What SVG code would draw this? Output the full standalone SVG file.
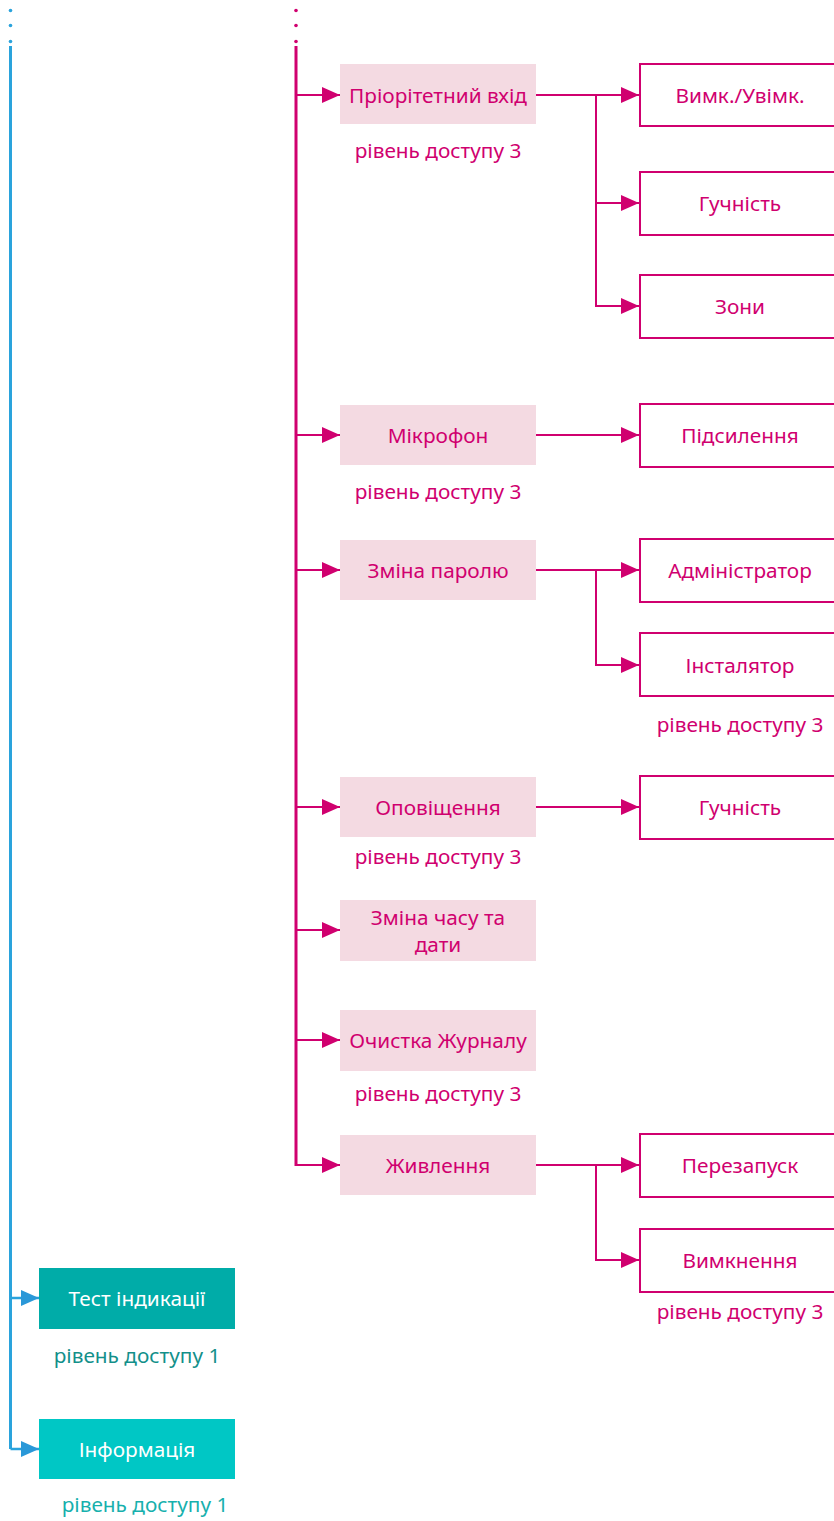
<svg xmlns="http://www.w3.org/2000/svg" width="834" height="1521" viewBox="0 0 834 1521">
<style>
text{font-family:"Noto Sans","Open Sans","Liberation Sans",sans-serif;font-size:20.8px;text-anchor:middle;dominant-baseline:central}
.m{fill:#d0006f}
.main{fill:#f4dae2}
.sub{fill:#fff;stroke:#d0006f;stroke-width:2}
.ml{stroke:#d0006f;stroke-width:2;fill:none}
.bl{stroke:#2aa3dc;stroke-width:2.5;fill:none}
.w{fill:#fff}
</style>
<defs>
<marker id="am" markerUnits="userSpaceOnUse" markerWidth="18" markerHeight="16" refX="18" refY="8" orient="auto"><path d="M0,0L18,8L0,16Z" fill="#d0006f"/></marker>
<marker id="ab" markerUnits="userSpaceOnUse" markerWidth="18" markerHeight="16" refX="18" refY="8" orient="auto"><path d="M0,0L18,8L0,16Z" fill="#2a98d8"/></marker>
</defs>
<g id="connectors">
<circle cx="10.5" cy="10.5" r="1.8" fill="#2aa3dc"/><circle cx="10.5" cy="25.5" r="1.8" fill="#2aa3dc"/><circle cx="10.5" cy="41.5" r="1.8" fill="#2aa3dc"/>
<circle cx="296" cy="10.5" r="1.8" fill="#d0006f"/><circle cx="296" cy="25.5" r="1.8" fill="#d0006f"/><circle cx="296" cy="41.5" r="1.8" fill="#d0006f"/>
<path class="bl" style="stroke-width:3" d="M10.5,46V1449"/>
<path class="bl" d="M10.5,1298H39" marker-end="url(#ab)"/>
<path class="bl" d="M10.5,1449H39" marker-end="url(#ab)"/>
<path class="ml" style="stroke-width:3" d="M296,46V1166"/>
<path class="ml" d="M296,95H340" marker-end="url(#am)"/>
<path class="ml" d="M296,435H340" marker-end="url(#am)"/>
<path class="ml" d="M296,570H340" marker-end="url(#am)"/>
<path class="ml" d="M296,807H340" marker-end="url(#am)"/>
<path class="ml" d="M296,930H340" marker-end="url(#am)"/>
<path class="ml" d="M296,1040H340" marker-end="url(#am)"/>
<path class="ml" d="M296,1165H340" marker-end="url(#am)"/>
<path class="ml" d="M536,95H639" marker-end="url(#am)"/>
<path class="ml" d="M596,95V306H639" marker-end="url(#am)"/>
<path class="ml" d="M596,203H639" marker-end="url(#am)"/>
<path class="ml" d="M536,435H639" marker-end="url(#am)"/>
<path class="ml" d="M536,570H639" marker-end="url(#am)"/>
<path class="ml" d="M596,570V665H639" marker-end="url(#am)"/>
<path class="ml" d="M536,807H639" marker-end="url(#am)"/>
<path class="ml" d="M536,1165H639" marker-end="url(#am)"/>
<path class="ml" d="M596,1165V1260H639" marker-end="url(#am)"/>
</g>
<g id="n1"><rect class="main" x="340" y="64" width="196" height="60"/><text class="m" x="438" y="95">Пріорітетний вхід</text><text class="m" x="438" y="150">рівень доступу 3</text></g>
<g id="n2"><rect class="main" x="340" y="405" width="196" height="60"/><text class="m" x="438" y="435">Мікрофон</text><text class="m" x="438" y="491">рівень доступу 3</text></g>
<g id="n3"><rect class="main" x="340" y="540" width="196" height="60"/><text class="m" x="438" y="570">Зміна паролю</text></g>
<g id="n4"><rect class="main" x="340" y="777" width="196" height="60"/><text class="m" x="438" y="807">Оповіщення</text><text class="m" x="438" y="856">рівень доступу 3</text></g>
<g id="n5"><rect class="main" x="340" y="900" width="196" height="61"/><text class="m" x="438" y="917">Зміна часу та</text><text class="m" x="438" y="944">дати</text></g>
<g id="n6"><rect class="main" x="340" y="1010" width="196" height="61"/><text class="m" x="438" y="1040">Очистка Журналу</text><text class="m" x="438" y="1093">рівень доступу 3</text></g>
<g id="n7"><rect class="main" x="340" y="1135" width="196" height="60"/><text class="m" x="438" y="1165">Живлення</text></g>
<g id="s1"><rect class="sub" x="640" y="64" width="200" height="62"/><text class="m" x="740" y="95">Вимк./Увімк.</text></g>
<g id="s2"><rect class="sub" x="640" y="172" width="200" height="63"/><text class="m" x="740" y="203">Гучність</text></g>
<g id="s3"><rect class="sub" x="640" y="275" width="200" height="63"/><text class="m" x="740" y="306">Зони</text></g>
<g id="s4"><rect class="sub" x="640" y="404" width="200" height="63"/><text class="m" x="740" y="435">Підсилення</text></g>
<g id="s5"><rect class="sub" x="640" y="539" width="200" height="63"/><text class="m" x="740" y="570">Адміністратор</text></g>
<g id="s6"><rect class="sub" x="640" y="633" width="200" height="63"/><text class="m" x="740" y="665">Інсталятор</text><text class="m" x="740" y="724">рівень доступу 3</text></g>
<g id="s7"><rect class="sub" x="640" y="776" width="200" height="63"/><text class="m" x="740" y="807">Гучність</text></g>
<g id="s8"><rect class="sub" x="640" y="1134" width="200" height="63"/><text class="m" x="740" y="1165">Перезапуск</text></g>
<g id="s9"><rect class="sub" x="640" y="1229" width="200" height="63"/><text class="m" x="740" y="1260">Вимкнення</text><text class="m" x="740" y="1311">рівень доступу 3</text></g>
<g id="b1"><rect x="39" y="1268" width="196" height="61" fill="#00aca8"/><text class="w" x="137" y="1298">Тест індикації</text><text x="137" y="1355" fill="#13908a">рівень доступу 1</text></g>
<g id="b2"><rect x="39" y="1419" width="196" height="60" fill="#00c7c5"/><text class="w" x="137" y="1449">Інформація</text><text x="145" y="1504" fill="#17b0ad">рівень доступу 1</text></g>
</svg>
